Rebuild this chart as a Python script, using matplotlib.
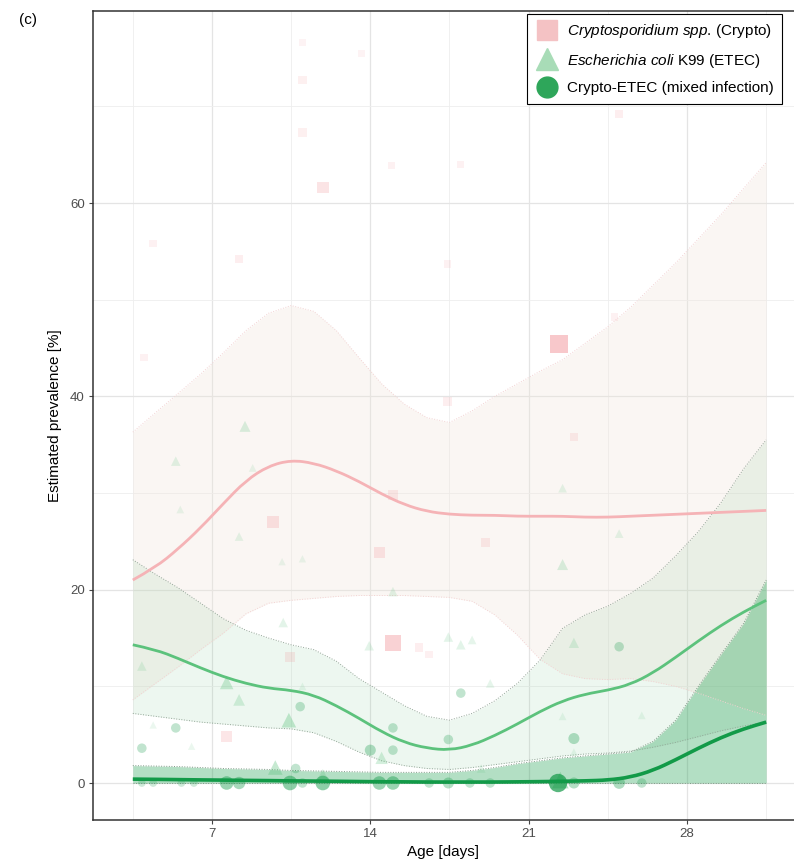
import numpy as np
import matplotlib
matplotlib.use("Agg")
import matplotlib.pyplot as plt
from matplotlib.lines import Line2D
from matplotlib.path import Path
from matplotlib.patches import PathPatch

plt.rcParams['font.family'] = ['Liberation Sans', 'DejaVu Sans']
plt.rcParams['mathtext.fontset'] = 'custom'
plt.rcParams['mathtext.rm'] = 'Liberation Sans'
plt.rcParams['mathtext.it'] = 'Liberation Sans:italic'

# ---- smoothed prevalence estimates (%) by age (days) ----
age = [3.5, 4.5, 5.5, 6.5, 7.5, 8.5, 9.5, 10.5, 11.5, 12.5,
       13.5, 14.5, 15.5, 16.5, 17.5, 18.5, 19.5, 20.5, 21.5, 22.5,
       23.5, 24.5, 25.5, 26.5, 27.5, 28.5, 29.5, 30.5, 31.5]

crypto_fit = [21.0, 22.3, 24.2, 26.4, 28.9, 31.3, 32.8, 33.4, 33.1, 32.3,
              31.2, 29.9, 28.8, 28.1, 27.8, 27.7, 27.7, 27.6, 27.6, 27.6,
              27.5, 27.5, 27.6, 27.7, 27.8, 27.9, 28.0, 28.1, 28.2]
crypto_hi = [36.3, 38.3, 40.3, 42.3, 44.5, 46.8, 48.6, 49.4, 48.8, 46.8,
             44.0, 41.3, 39.2, 37.8, 37.3, 38.5, 40.0, 41.3, 42.6, 43.8,
             45.5, 47.2, 49.2, 51.5, 53.8, 56.3, 58.8, 61.5, 64.2]
crypto_lo = [8.6, 10.3, 12.0, 13.8, 15.5, 17.5, 18.6, 18.9, 19.1, 19.3,
             19.4, 19.4, 19.4, 19.3, 19.2, 18.8, 17.4, 15.3, 12.8, 11.3,
             10.8, 10.7, 10.8, 10.5, 10.0, 9.3, 8.5, 7.7, 7.0]

etec_fit = [14.3, 13.8, 12.9, 11.9, 11.0, 10.3, 9.8, 9.6, 9.1, 8.0,
            6.7, 5.3, 4.2, 3.6, 3.4, 3.9, 4.9, 6.1, 7.4, 8.5,
            9.2, 9.6, 10.2, 11.4, 13.0, 14.7, 16.3, 17.7, 18.9]
etec_hi = [23.1, 21.6, 20.2, 18.6, 17.0, 15.8, 15.0, 14.3, 13.8, 12.6,
           10.8, 9.4, 8.0, 6.9, 6.5, 7.2, 8.5, 10.3, 12.7, 16.0,
           17.4, 18.3, 19.6, 21.2, 23.5, 26.0, 29.0, 32.5, 35.5]
etec_lo = [7.2, 6.9, 6.6, 6.3, 6.1, 5.9, 5.7, 5.6, 5.2, 4.3,
           3.2, 2.3, 1.8, 1.5, 1.4, 1.6, 1.9, 2.2, 2.5, 2.8,
           3.0, 3.1, 3.3, 3.7, 4.2, 4.8, 5.4, 5.9, 6.3]

mixed_fit = [0.4, 0.38, 0.35, 0.32, 0.3, 0.27, 0.25, 0.22, 0.2, 0.18,
             0.15, 0.13, 0.12, 0.1, 0.1, 0.1, 0.1, 0.12, 0.14, 0.18,
             0.22, 0.3, 0.6, 1.3, 2.4, 3.6, 4.7, 5.6, 6.3]
mixed_hi = [1.8, 1.75, 1.7, 1.6, 1.5, 1.45, 1.4, 1.3, 1.25, 1.2,
            1.15, 1.1, 1.1, 1.1, 1.1, 1.3, 1.6, 2.0, 2.3, 2.6,
            2.8, 3.0, 3.2, 4.3, 6.5, 10.0, 13.3, 16.5, 21.0]

# ---- observed herd prevalences (weight = relative sample size) ----
crypto_age = [9.7, 11.9, 22.35, 15.0, 15.0, 14.4, 10.45, 16.15, 7.65, 17.4,
              23.0, 19.1, 11.0, 11.0, 14.95, 8.2, 4.4, 25.0, 18.0, 17.4,
              24.8, 4.0, 16.6, 13.6, 11.0]
crypto_prev = [27.0, 61.6, 45.4, 14.5, 29.8, 23.8, 13.0, 14.0, 4.8, 39.5,
               35.8, 24.9, 72.7, 67.3, 63.9, 54.2, 55.8, 69.2, 64.0, 53.7,
               48.2, 44.0, 13.3, 75.5, 76.6]
crypto_w = [0.35, 0.35, 0.9, 0.7, 0.2, 0.3, 0.25, 0.15, 0.3, 0.15,
            0.15, 0.2, 0.12, 0.12, 0.08, 0.15, 0.08, 0.15, 0.08, 0.08,
            0.08, 0.08, 0.1, 0.05, 0.05]

etec_age = [8.46, 5.4, 8.8, 5.6, 8.2, 10.1, 11.0, 15.0, 10.15, 13.95,
            3.9, 22.5, 25.0, 22.5, 23.0, 17.45, 18.0, 18.5, 7.65, 8.2,
            10.4, 11.0, 9.8, 14.5, 11.9, 4.4, 6.1, 19.3, 22.5, 23.0,
            26.0, 18.9, 22.4]
etec_prev = [36.9, 33.3, 32.6, 28.3, 25.5, 22.9, 23.2, 19.8, 16.6, 14.2,
             12.1, 30.5, 25.8, 22.6, 14.5, 15.1, 14.3, 14.8, 10.4, 8.6,
             6.5, 10.0, 1.6, 2.6, 0.8, 6.0, 3.8, 10.3, 6.9, 3.2,
             7.0, 1.5, 0.3]
etec_w = [0.3, 0.2, 0.1, 0.1, 0.15, 0.08, 0.08, 0.2, 0.2, 0.2,
          0.2, 0.15, 0.15, 0.3, 0.25, 0.2, 0.2, 0.15, 0.5, 0.35,
          0.6, 0.1, 0.6, 0.4, 0.4, 0.08, 0.08, 0.15, 0.1, 0.1,
          0.1, 0.15, 0.8]

mixed_age = [5.4, 3.9, 10.9, 14.0, 15.0, 15.0, 10.7, 18.0, 17.45, 23.0, 25.0,
             3.9, 4.4, 5.65, 6.2, 7.65, 8.2, 10.45, 11.0, 11.9, 14.4,
             15.0, 16.6, 17.45, 18.4, 19.3, 22.3, 23.0, 25.0, 26.0]
mixed_prev = [5.7, 3.6, 7.9, 3.4, 5.7, 3.4, 1.5, 9.3, 4.5, 4.6, 14.1,
              0, 0, 0, 0, 0, 0, 0, 0, 0, 0,
              0, 0, 0, 0, 0, 0, 0, 0, 0]
mixed_w = [0.2, 0.2, 0.2, 0.3, 0.2, 0.2, 0.2, 0.2, 0.2, 0.3, 0.2,
           0.1, 0.1, 0.1, 0.1, 0.5, 0.4, 0.6, 0.2, 0.6, 0.5,
           0.5, 0.2, 0.3, 0.2, 0.2, 1.0, 0.3, 0.35, 0.2]

labels = [r'$\mathit{Cryptosporidium\ spp.}\,$(Crypto)',
          r'$\mathit{Escherichia\ coli}$ K99 (ETEC)',
          'Crypto-ETEC (mixed infection)']

c_crypto = '#f5b3b6'
c_etec = '#5cc27c'
c_mixed = '#129a48'


def smooth_path(x, y):
    # quadratic bezier through the midpoints, using the estimates as control points
    verts = [(x[0], y[0])]
    codes = [Path.MOVETO]
    for i in range(1, len(x) - 1):
        verts += [(x[i], y[i]), ((x[i] + x[i + 1]) / 2, (y[i] + y[i + 1]) / 2)]
        codes += [Path.CURVE3, Path.CURVE3]
    verts.append((x[-1], y[-1]))
    codes.append(Path.LINETO)
    return Path(verts, codes)


def fit_line(ax, x, y, color, lw):
    ax.add_patch(PathPatch(smooth_path(x, y), fc='none', ec=color, lw=lw,
                           capstyle='butt', zorder=3))


fig = plt.figure(figsize=(7.94, 8.64), dpi=100)
ax = fig.add_axes([0.1171, 0.0509, 0.8829, 0.9367])

# confidence ribbons
ax.fill_between(age, crypto_lo, crypto_hi, color='#f1e4da', alpha=0.30, lw=0, zorder=1)
ax.fill_between(age, etec_lo, etec_hi, color='#55b973', alpha=0.10, lw=0, zorder=1.1)
ax.fill_between(age, 0, mixed_hi, color='#1a9e4d', alpha=0.33, lw=0, zorder=1.2)
for lo, hi, col in [(crypto_lo, crypto_hi, '#f2d2d2'),
                    (etec_lo, etec_hi, '#93a597'),
                    ([0] * len(age), mixed_hi, '#7f9a86')]:
    ax.plot(age, lo, ls=':', lw=0.7, color=col, zorder=1.5)
    ax.plot(age, hi, ls=':', lw=0.7, color=col, zorder=1.5)


# observed points
def sizes(w):
    return 15 + 160 * np.array(w)


ax.scatter(crypto_age, crypto_prev, s=sizes(crypto_w), marker='s', lw=0, zorder=2,
           facecolors=[(0.95, 0.56, 0.58, 0.08 + 0.45 * w) for w in crypto_w])
ax.scatter(etec_age, etec_prev, s=sizes(etec_w), marker='^', lw=0, zorder=2,
           facecolors=[(0.36, 0.76, 0.49, 0.08 + 0.45 * w) for w in etec_w])
ax.scatter(mixed_age, mixed_prev, s=sizes(mixed_w), marker='o', lw=0, zorder=2,
           facecolors=[(0.07, 0.6, 0.28, 0.15 + 0.55 * w) for w in mixed_w])

# fitted curves
fit_line(ax, age, crypto_fit, c_crypto, 2.0)
fit_line(ax, age, etec_fit, c_etec, 2.0)
fit_line(ax, age, mixed_fit, c_mixed, 2.6)

ax.set_xlim(1.74, 32.73)
ax.set_ylim(-3.83, 79.9)
ax.set_xticks([7, 14, 21, 28])
ax.set_yticks([0, 20, 40, 60])
ax.set_xticks([3.5, 10.5, 17.5, 24.5, 31.5], minor=True)
ax.set_yticks([10, 30, 50, 70], minor=True)
ax.grid(which='major', color='#e4e4e4', lw=0.9, zorder=0)
ax.grid(which='minor', color='#eeeeee', lw=0.6, zorder=0)
ax.set_axisbelow(True)
ax.tick_params(which='major', length=3, width=0.8, color='#444444',
               labelsize=9.5, labelcolor='#4d4d4d', pad=3)
ax.tick_params(which='minor', length=0)
for side in ['left', 'bottom', 'top']:
    ax.spines[side].set_color('#333333')
    ax.spines[side].set_linewidth(1.1)
ax.spines['right'].set_visible(False)

ax.set_xlabel('Age [days]', fontsize=11, labelpad=3)
ax.set_ylabel('Estimated prevalence [%]', fontsize=11, labelpad=6)

handles = [Line2D([], [], ls='none', marker='s', markersize=15, color='#f4c2c4'),
           Line2D([], [], ls='none', marker='^', markersize=16, color='#a8dcb7'),
           Line2D([], [], ls='none', marker='o', markersize=15, color='#2ea65a')]
leg = ax.legend(handles, labels, loc='upper right', bbox_to_anchor=(0.983, 0.996),
                fontsize=11, frameon=True, fancybox=False, framealpha=1,
                edgecolor='black', handlelength=1.5, handletextpad=0.55,
                labelspacing=0.75, borderpad=0.55, borderaxespad=0)
leg.get_frame().set_linewidth(0.8)

fig.text(0.024, 0.977, '(c)', fontsize=11, va='center', ha='left')

fig.savefig('out.png', dpi=100)
